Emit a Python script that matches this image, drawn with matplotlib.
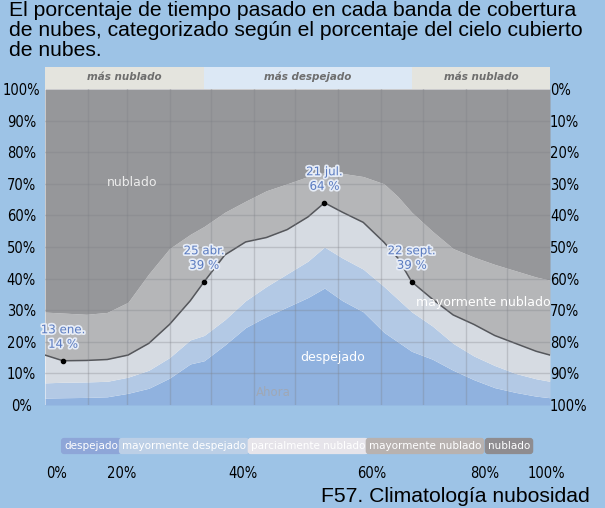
import matplotlib.pyplot as plt
import matplotlib.patheffects as pe

# days of year and cumulative cloud-cover boundaries (%)
days = [0, 13, 30, 45, 60, 75, 90, 105, 115, 130, 145, 160, 175, 190, 202,
        215, 230, 245, 255, 265, 280, 295, 310, 325, 340, 355, 365]
# top of "despejado"
despejado = [2.2, 2.3, 2.4, 2.6, 3.7, 5.3, 8.5, 13, 14, 19, 24.5, 28, 31, 34, 37,
             33, 29.5, 23, 20, 17, 14.5, 11, 8, 5.5, 4, 2.8, 2.3]
# top of "mayormente despejado"
may_despejado = [7, 7.2, 7.3, 7.5, 8.8, 11, 15, 20.6, 22, 27, 33, 37.5, 41.5, 45.5, 50,
                 46.5, 43, 37.5, 33.5, 29.5, 25, 19.5, 15.5, 12.5, 10, 8.3, 7.5]
# top of "parcialmente nublado" (the black line)
parc_nublado = [15.8, 14, 14.1, 14.4, 15.8, 19.5, 25.5, 33, 39, 47.5, 51.6, 53, 55.5, 59.5, 64,
                61, 57.8, 51.5, 46.5, 39, 33.5, 28.5, 25.5, 22, 19.5, 17, 15.8]
# top of "mayormente nublado"
may_nublado = [29.4, 29.1, 28.7, 29.3, 32.5, 41.5, 49.5, 54, 56.5, 61, 64.5, 67.8, 70, 72.3, 73.5,
               73.3, 72.3, 70, 66, 61, 55, 49.5, 46.8, 44.5, 42.5, 40.5, 39.5]

marker_days = [13, 115, 202, 265]
marker_vals = [14, 39, 64, 39]
marker_text = ["13 ene.\n14 %", "25 abr.\n39 %", "21 jul.\n64 %", "22 sept.\n39 %"]

month_starts = [31, 59, 90, 120, 151, 181, 212, 243, 273, 304, 334]
header_bounds = [0, 115, 265, 365]
header_labels = ["más nublado", "más despejado", "más nublado"]

left_labels = ["0%", "10%", "20%", "30%", "40%", "50%", "60%", "70%", "80%", "90%", "100%"]
bottom_labels = ["0%", "20%", "40%", "60%", "80%", "100%"]
legend_labels = ["despejado", "mayormente despejado", "parcialmente nublado",
                 "mayormente nublado", "nublado"]
title_lines = ["El porcentaje de tiempo pasado en cada banda de cobertura",
               "de nubes, categorizado según el porcentaje del cielo cubierto",
               "de nubes."]

bg = "#9dc3e6"
c_desp = "#90b2df"
c_mdesp = "#b3c9e5"
c_parc = "#d6dbe2"
c_mnub = "#b5b6b8"
c_nub = "#96979a"

tick_font = dict(family=["Liberation Sans Narrow", "DejaVu Sans"], stretch="condensed")

fig = plt.figure(figsize=(6.05, 5.08), dpi=100)
fig.patch.set_facecolor(bg)

ax = fig.add_axes([45 / 605, 1 - 405 / 508, 505 / 605, 316 / 508])
ax.set_xlim(0, 365)
ax.set_ylim(0, 100)
ax.fill_between(days, 0, despejado, color=c_desp, lw=0)
ax.fill_between(days, despejado, may_despejado, color=c_mdesp, lw=0)
ax.fill_between(days, may_despejado, parc_nublado, color=c_parc, lw=0)
ax.fill_between(days, parc_nublado, may_nublado, color=c_mnub, lw=0)
ax.fill_between(days, may_nublado, 100, color=c_nub, lw=0)
ax.plot(days, parc_nublado, color="#55575c", lw=1.1)

for d in month_starts:
    ax.axvline(d, color="#7c7e85", lw=1, alpha=0.3)
for v in range(10, 100, 10):
    ax.axhline(v, color="#7c7e85", lw=1, alpha=0.3)

ax.scatter(marker_days, marker_vals, s=9, color="black", zorder=5)
for d, v, t in zip(marker_days, marker_vals, marker_text):
    ax.annotate(t, xy=(d, v), xytext=(0, 10), textcoords="offset pixels",
                ha="center", va="bottom", fontsize=8.5, color="#5a7bc0",
                linespacing=1.15,
                path_effects=[pe.withStroke(linewidth=2.5, foreground="#e6ecf6")])

ax.text(63, 70.5, "nublado", ha="center", va="center", fontsize=9, color="#ececec")
ax.text(317, 32.5, "mayormente nublado", ha="center", va="center", fontsize=9, color="white")
ax.text(208, 15, "despejado", ha="center", va="center", fontsize=9, color="white")
ax.text(165, 3.8, "Ahora", ha="center", va="center", fontsize=8.5, color="#9fa8b6")

ax.set_yticks(range(0, 101, 10))
ax.set_yticklabels(left_labels, fontsize=10.5, ha="center", **tick_font)
ax.tick_params(axis="y", length=0, pad=17)
ax.set_xticks([])
for s in ax.spines.values():
    s.set_visible(False)

ax2 = ax.twinx()
ax2.set_ylim(0, 100)
ax2.set_yticks(range(0, 101, 10))
ax2.set_yticklabels(left_labels[::-1], fontsize=10.5, **tick_font)
ax2.tick_params(axis="y", length=0, pad=0)
for s in ax2.spines.values():
    s.set_visible(False)

# header strip
hx = fig.add_axes([45 / 605, 1 - 89 / 508, 505 / 605, 22 / 508])
hx.set_xlim(0, 365)
hx.set_ylim(0, 1)
hcolors = ["#e4e4de", "#dce8f5", "#e4e4de"]
for i, lab in enumerate(header_labels):
    a, b = header_bounds[i], header_bounds[i + 1]
    hx.axvspan(a, b, color=hcolors[i], lw=0)
    hx.text((a + b) / 2, 0.55, lab, ha="center", va="center", fontsize=7.5,
            style="italic", fontweight="bold", color="#6e6e6e")
hx.axis("off")

# legend row
leg_x = [91, 184, 308, 425, 509]
leg_colors = ["#8ea6d8", "#bccfe6", "#e6e4ea", "#b8b2b0", "#8e8c90"]
for x, lab, col in zip(leg_x, legend_labels, leg_colors):
    fig.text(x / 605, 1 - 446 / 508, lab, ha="center", va="center", fontsize=7.5,
             color="white",
             bbox=dict(boxstyle="round,pad=0.3", fc=col, ec="none"))

bottom_x = [57, 122, 243, 372, 485, 546]
for x, lab in zip(bottom_x, bottom_labels):
    fig.text(x / 605, 1 - 474 / 508, lab, ha="center", va="center", fontsize=10.5,
             **tick_font)

for y, line in zip([11, 31, 51], title_lines):
    fig.text(9 / 605, 1 - y / 508, line, ha="left", va="center", fontsize=15.2,
             family="Liberation Sans")
fig.text(590 / 605, 1 - 497 / 508, "F57. Climatología nubosidad", ha="right",
         va="center", fontsize=15.2, family="Liberation Sans")

fig.savefig("out.png", dpi=100, facecolor=bg)
